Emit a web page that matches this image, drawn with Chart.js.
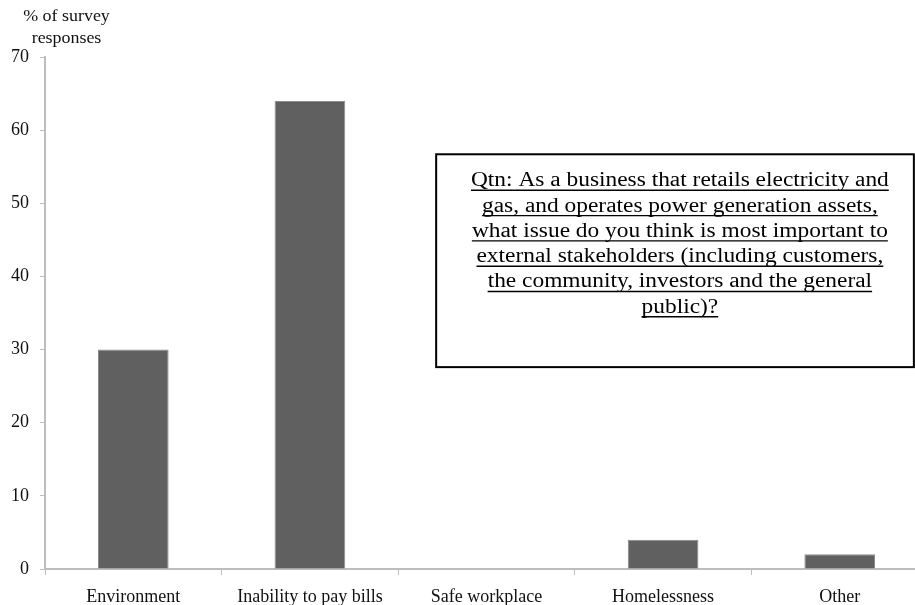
<!DOCTYPE html>
<html>
<head>
<meta charset="utf-8">
<script src="https://cdn.jsdelivr.net/npm/chart.js@4/dist/chart.umd.min.js"></script>
<style>
  html, body { margin: 0; padding: 0; background: #ffffff; overflow: hidden; }
  #wrap { position: relative; width: 935px; height: 605px; }
</style>
</head>
<body>
<div id="wrap"><canvas id="c"></canvas></div>
<script>
// Issue ranked most important to external stakeholders
const categories = ['Environment', 'Inability to pay bills', 'Safe workplace', 'Homelessness', 'Other'];
const responses = [30, 64, 0, 4, 2];

// Value axis
const yMin = 0;
const yMax = 70;
const yStep = 10;
const yAxisTitle = ['% of survey', 'responses'];

// Survey question shown in the boxed note
const questionLines = [
  'Qtn: As a business that retails electricity and',
  'gas, and operates power generation assets,',
  'what issue do you think is most important to',
  'external stakeholders (including customers,',
  'the community, investors and the general',
  'public)?'
];

const serif = "'Liberation Serif', 'Times New Roman', serif";
const axisGrey = '#bdbdbd';
const textColor = '#111111';

// Draws the stacked axis title and the underlined question box
const overlay = {
  id: 'overlay',
  afterDraw(chart) {
    const { ctx, chartArea: a, scales: { y } } = chart;

    ctx.save();
    ctx.fillStyle = textColor;
    ctx.font = `16px ${serif}`;
    ctx.textAlign = 'center';
    ctx.textBaseline = 'alphabetic';
    yAxisTitle.forEach((t, i) => {
      ctx.save();
      ctx.translate(a.left + 21.5, 21 + i * 22);
      ctx.scale(1.12, 1);
      ctx.fillText(t, 0, 0);
      ctx.restore();
    });
    ctx.restore();

    const boxLeft = a.left + 0.443 * a.width;
    const boxRight = a.left + 0.984 * a.width;
    const boxTop = y.getPixelForValue(56.7);
    const boxBottom = y.getPixelForValue(27.6);

    ctx.save();
    ctx.fillStyle = '#ffffff';
    ctx.fillRect(boxLeft, boxTop, boxRight - boxLeft, boxBottom - boxTop);
    ctx.strokeStyle = '#000000';
    ctx.lineWidth = 2;
    ctx.strokeRect(boxLeft, boxTop, boxRight - boxLeft, boxBottom - boxTop);

    const cx = a.left + 0.719 * a.width;
    ctx.font = `20px ${serif}`;
    ctx.fillStyle = '#000000';
    ctx.textAlign = 'center';
    ctx.textBaseline = 'alphabetic';
    questionLines.forEach((t, i) => {
      const by = boxTop + 32 + i * 25.3;
      ctx.save();
      ctx.translate(cx, by);
      ctx.scale(1.17, 1);
      ctx.fillText(t, 0, 0);
      const w = ctx.measureText(t).width;
      ctx.lineWidth = 1.4;
      ctx.beginPath();
      ctx.moveTo(-w / 2, 4);
      ctx.lineTo(w / 2, 4);
      ctx.stroke();
      ctx.restore();
    });
    ctx.restore();
  }
};

new Chart(document.getElementById('c'), {
  type: 'bar',
  data: {
    labels: categories,
    datasets: [{
      data: responses,
      backgroundColor: '#606060',
      borderColor: '#8c8c8c',
      borderWidth: { top: 1, left: 1, right: 1, bottom: 0 },
      barPercentage: 0.4,
      categoryPercentage: 1.0
    }]
  },
  options: {
    responsive: true,
    maintainAspectRatio: false,
    animation: false,
    layout: { padding: { top: 57, right: 7, bottom: 0, left: 0 } },
    plugins: {
      legend: { display: false },
      tooltip: { enabled: false },
      title: { display: false }
    },
    scales: {
      x: {
        grid: {
          display: true,
          drawOnChartArea: false,
          offset: true,
          tickLength: 6,
          color: axisGrey,
          lineWidth: 1
        },
        border: { display: true, color: axisGrey, width: 2 },
        ticks: {
          color: textColor,
          font: { family: serif, size: 18 },
          padding: 11,
          maxRotation: 0,
          autoSkip: false
        },
        afterFit(scale) { scale.height = 36; }
      },
      y: {
        min: yMin,
        max: yMax,
        grid: {
          display: true,
          drawOnChartArea: false,
          tickLength: 5,
          color: axisGrey,
          lineWidth: 1
        },
        border: { display: true, color: axisGrey, width: 2 },
        ticks: {
          stepSize: yStep,
          color: textColor,
          font: { family: serif, size: 18 },
          padding: 11
        },
        afterFit(scale) { scale.width = 45; }
      }
    }
  },
  plugins: [overlay]
});
</script>
</body>
</html>
